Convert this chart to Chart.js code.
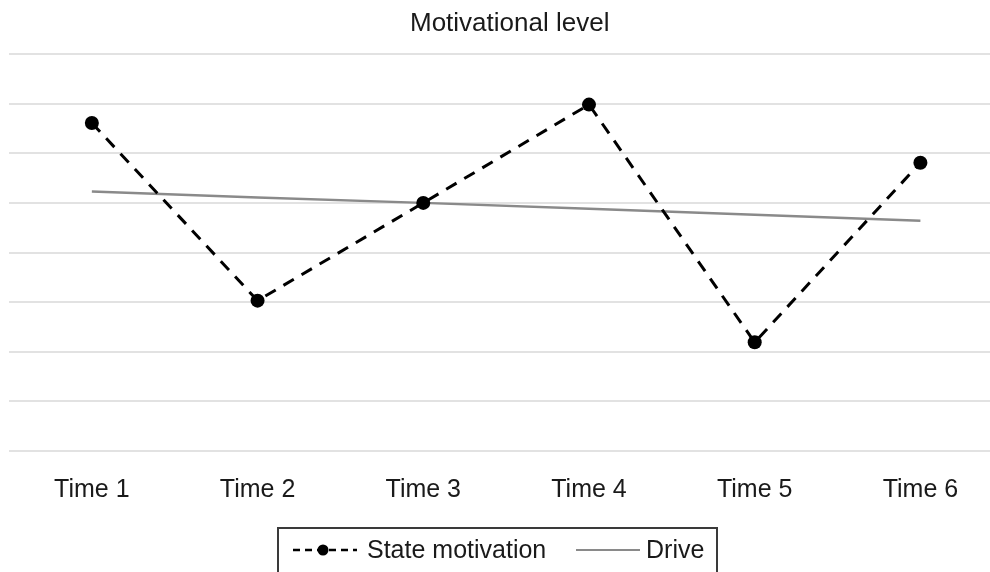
<!DOCTYPE html>
<html>
<head>
<meta charset="utf-8">
<title>Motivational level</title>
<script src="https://cdn.jsdelivr.net/npm/chart.js@4.4.1/dist/chart.umd.min.js"></script>
<style>
    html, body {
        margin: 0;
        padding: 0;
        background: #fff;
        width: 990px;
        height: 572px;
        overflow: hidden;
        font-family: "Liberation Sans", Arial, sans-serif;
    }
    #wrap {
        position: relative;
        width: 990px;
        height: 572px;
    }
    #chartTitle {
        position: absolute;
        left: 410px;
        top: 7px;
        font-size: 26px;
        line-height: 30px;
        color: #1a1a1a;
        white-space: nowrap;
    }
    #legend {
        position: absolute;
        left: 277px;
        top: 527px;
        width: 437px;
        height: 70px;
        border: 2px solid #3a3a3a;
        box-sizing: content-box;
    }
    #legend .item {
        position: absolute;
        top: 5px;
        font-size: 25px;
        line-height: 30px;
        color: #1a1a1a;
        white-space: nowrap;
    }
    #legend svg {
        position: absolute;
    }
</style>
</head>
<body>
<div id="wrap">
    <canvas id="motivationChart" width="990" height="572"></canvas>
    <div id="chartTitle">Motivational level</div>
    <div id="legend">
        <svg style="left:13px; top:11px" width="66" height="20">
            <line x1="1" y1="10" x2="65" y2="10" stroke="#000" stroke-width="2.5" stroke-dasharray="7,5"></line>
            <circle cx="31" cy="10" r="5.5" fill="#000"></circle>
        </svg>
        <span class="item" style="left:88px">State motivation</span>
        <svg style="left:297px; top:11px" width="64" height="20">
            <line x1="0" y1="10" x2="64" y2="10" stroke="#8a8a8a" stroke-width="2"></line>
        </svg>
        <span class="item" style="left:367px">Drive</span>
    </div>
</div>

<script>
// Chart data
const timeLabels = ['Time 1', 'Time 2', 'Time 3', 'Time 4', 'Time 5', 'Time 6'];
const stateMotivation = [6.61, 3.03, 5.0, 6.98, 2.19, 5.81];
const drive = [5.23, 5.11, 5.0, 4.88, 4.76, 4.64];

// y axis range (gridlines every unit, no tick labels shown)
const yMin = 0;
const yMax = 8;

// Turn a value list into {x, y} points for the linear x axis
function toPoints(values) {
    return values.map((v, i) => ({ x: i + 1, y: v }));
}

const ctx = document.getElementById('motivationChart').getContext('2d');

new Chart(ctx, {
    type: 'line',
    data: {
        datasets: [
            {
                label: 'State motivation',
                data: toPoints(stateMotivation),
                borderColor: '#000',
                backgroundColor: '#000',
                borderWidth: 3,
                borderDash: [12, 9],
                pointRadius: 7,
                pointBackgroundColor: '#000',
                pointBorderWidth: 0,
                tension: 0,
                order: 1
            },
            {
                label: 'Drive',
                data: toPoints(drive),
                borderColor: '#8a8a8a',
                borderWidth: 2.5,
                pointRadius: 0,
                tension: 0,
                order: 2
            }
        ]
    },
    options: {
        responsive: false,
        animation: false,
        devicePixelRatio: 1,
        layout: {
            autoPadding: false,
            padding: { left: 9, right: 0, top: 54, bottom: 61 }
        },
        plugins: {
            legend: { display: false },
            tooltip: { enabled: false },
            title: { display: false }
        },
        scales: {
            x: {
                type: 'linear',
                min: 0.5,
                max: 6.42,
                grid: { display: false, drawTicks: false },
                border: { display: false },
                afterBuildTicks: (scale) => {
                    scale.ticks = timeLabels.map((_, i) => ({ value: i + 1 }));
                },
                afterFit: (scale) => {
                    scale.height = 60;
                    scale.paddingLeft = 0;
                    scale.paddingRight = 0;
                },
                ticks: {
                    padding: 24,
                    color: '#1a1a1a',
                    font: { family: '"Liberation Sans", Arial, sans-serif', size: 25 },
                    callback: (value) => timeLabels[value - 1] || ''
                }
            },
            y: {
                min: yMin,
                max: yMax,
                grid: {
                    color: '#e2e2e2',
                    lineWidth: 2,
                    drawTicks: false
                },
                border: { display: false },
                ticks: { display: false, stepSize: 1 },
                afterFit: (scale) => {
                    scale.width = 0;
                }
            }
        }
    }
});
</script>
</body>
</html>
